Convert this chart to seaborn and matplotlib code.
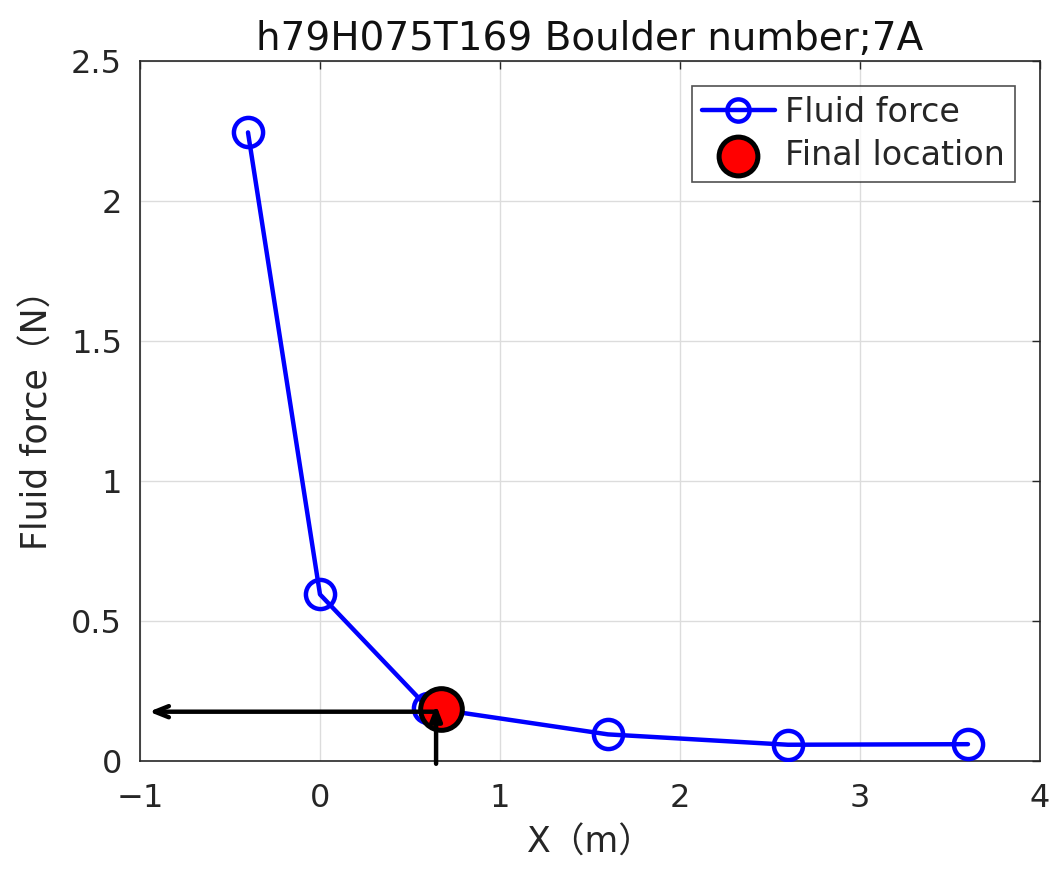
import numpy as np
import pandas as pd
import matplotlib
matplotlib.use("Agg")
import matplotlib.pyplot as plt
import seaborn as sns

# data
x_pos = [-0.4, 0.0, 0.6, 1.6, 2.6, 3.6]
fluid_force = [2.245, 0.595, 0.19, 0.095, 0.058, 0.06]
final_x = [0.67]
final_force = [0.185]
arrow_x = 0.645
arrow_y = 0.176
arrow_left = -0.95
arrow_top = 0.2

sns.set_style("white")
plt.rcParams['font.family'] = ['DejaVu Sans', 'Noto Sans CJK JP']

df = pd.DataFrame({"X": x_pos, "F": fluid_force})
df_final = pd.DataFrame({"X": final_x, "F": final_force})

fig = plt.figure(figsize=(10.51, 8.69), dpi=100)
ax = fig.add_axes([0.1332, 0.1243, 0.8563, 0.8055])

sns.lineplot(data=df, x="X", y="F", ax=ax, color="#0000ff",
             marker="o", markersize=21, markerfacecolor="none",
             markeredgecolor="#0000ff", label="Fluid force", zorder=3)
# seaborn overrides widths, set them on the line afterwards
for ln in ax.lines:
    ln.set_linewidth(3.2)
    ln.set_markeredgewidth(3.2)
sns.scatterplot(data=df_final, x="X", y="F", ax=ax, color="#ff0000",
                s=900, edgecolor="black", linewidth=3.6, label="Final location",
                zorder=4)

# arrows from final location to the axes
head = "->,head_length=1.0,head_width=0.4"
ax.annotate("", xy=(arrow_left, arrow_y), xytext=(arrow_x, arrow_y),
            arrowprops=dict(arrowstyle=head, color="black", lw=3.2,
                            shrinkA=0, shrinkB=0), zorder=5)
ax.annotate("", xy=(arrow_x, arrow_top), xytext=(arrow_x, -0.01),
            arrowprops=dict(arrowstyle="-|>,head_length=0.9,head_width=0.35", color="black", lw=3.2,
                            shrinkA=0, shrinkB=0), zorder=5, annotation_clip=False)

ax.set_xlim(-1, 4)
ax.set_ylim(0, 2.5)
ax.set_xticks(np.arange(-1, 5, 1))
ax.set_yticks(np.arange(0, 2.51, 0.5))
ax.set_xticklabels(["\u22121", "0", "1", "2", "3", "4"])
ax.set_yticklabels(["0", "0.5", "1", "1.5", "2", "2.5"])
ax.grid(True, color="#dcdcdc", lw=1)
ax.tick_params(direction="in", length=6, width=1, labelsize=23, colors="#262626",
               top=True, right=True)
ax.tick_params(axis="x", pad=16)
ax.tick_params(axis="y", pad=13)
for s in ax.spines.values():
    s.set_color("#262626")
    s.set_linewidth(1.2)

ax.set_xlabel("X\uff08m\uff09", fontsize=25, color="#262626", labelpad=8)
ax.set_ylabel("Fluid force\uff08N\uff09", fontsize=25, color="#262626", labelpad=12)
ax.set_title("h79H075T169 Boulder number;7A", fontsize=28, color="#111111", pad=8)

leg = ax.legend(loc="upper right", fontsize=24, frameon=True, fancybox=False,
                borderaxespad=0.75, handlelength=2.2, handletextpad=0.3,
                labelspacing=0.3, borderpad=0.3)
leg.get_frame().set_edgecolor("#262626")
leg.get_frame().set_linewidth(1.2)
# legend: small open circle, big red dot as in the original
leg.legend_handles[0].set_markersize(16)
leg.legend_handles[1].set_sizes([780])

fig.savefig("out.png", dpi=100)
